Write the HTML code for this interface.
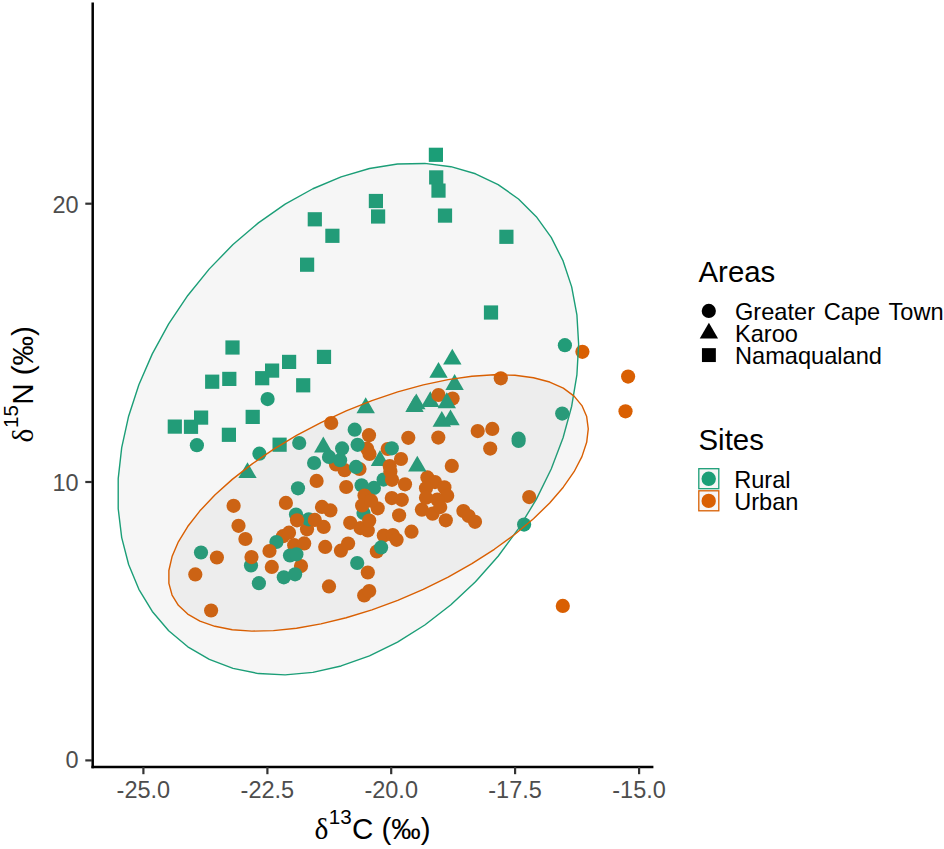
<!DOCTYPE html>
<html><head><meta charset="utf-8"><style>
html,body{margin:0;padding:0;background:#fff;}
svg{display:block;}
text{font-family:"Liberation Sans",sans-serif;}
.tl{font-size:23.5px;fill:#4d4d4d;}
.tt{font-size:29.5px;fill:#000;}
.ts{font-size:20.6px;fill:#000;}
.sf{font-family:"Liberation Serif",serif;}
.lt{font-size:29.4px;fill:#000;}
.li{font-size:23.6px;fill:#000;}
</style></head><body>
<svg width="944" height="849" viewBox="0 0 944 849">
<rect width="944" height="849" fill="#fff"/>
<circle cx="582.4" cy="351.8" r="7.1" fill="#d95f02"/>
<circle cx="628.1" cy="376.6" r="7.1" fill="#d95f02"/>
<circle cx="625.5" cy="411.3" r="7.1" fill="#d95f02"/>
<circle cx="562.8" cy="605.9" r="7.1" fill="#d95f02"/>
<circle cx="529.2" cy="497.1" r="7.1" fill="#d95f02"/>
<circle cx="500.8" cy="378.3" r="7.1" fill="#d95f02"/>
<circle cx="452.6" cy="398.5" r="7.1" fill="#d95f02"/>
<circle cx="331.2" cy="423.0" r="7.1" fill="#d95f02"/>
<circle cx="369.0" cy="435.2" r="7.1" fill="#d95f02"/>
<circle cx="408.3" cy="437.8" r="7.1" fill="#d95f02"/>
<circle cx="438.3" cy="437.6" r="7.1" fill="#d95f02"/>
<circle cx="477.7" cy="431.1" r="7.1" fill="#d95f02"/>
<circle cx="492.3" cy="428.9" r="7.1" fill="#d95f02"/>
<circle cx="490.2" cy="448.6" r="7.1" fill="#d95f02"/>
<circle cx="451.8" cy="465.9" r="7.1" fill="#d95f02"/>
<circle cx="387.7" cy="449.0" r="7.1" fill="#d95f02"/>
<circle cx="367.1" cy="448.7" r="7.1" fill="#d95f02"/>
<circle cx="369.5" cy="454.0" r="7.1" fill="#d95f02"/>
<circle cx="336.0" cy="464.5" r="7.1" fill="#d95f02"/>
<circle cx="344.6" cy="470.2" r="7.1" fill="#d95f02"/>
<circle cx="359.5" cy="469.0" r="7.1" fill="#d95f02"/>
<circle cx="401.0" cy="459.0" r="7.1" fill="#d95f02"/>
<circle cx="405.0" cy="484.3" r="7.1" fill="#d95f02"/>
<circle cx="316.6" cy="480.9" r="7.1" fill="#d95f02"/>
<circle cx="346.2" cy="487.0" r="7.1" fill="#d95f02"/>
<circle cx="285.9" cy="502.9" r="7.1" fill="#d95f02"/>
<circle cx="233.6" cy="505.8" r="7.1" fill="#d95f02"/>
<circle cx="238.5" cy="525.8" r="7.1" fill="#d95f02"/>
<circle cx="245.4" cy="539.0" r="7.1" fill="#d95f02"/>
<circle cx="216.9" cy="557.5" r="7.1" fill="#d95f02"/>
<circle cx="271.8" cy="566.9" r="7.1" fill="#d95f02"/>
<circle cx="195.3" cy="574.4" r="7.1" fill="#d95f02"/>
<circle cx="211.1" cy="610.5" r="7.1" fill="#d95f02"/>
<circle cx="322.0" cy="506.9" r="7.1" fill="#d95f02"/>
<circle cx="330.4" cy="510.4" r="7.1" fill="#d95f02"/>
<circle cx="307.0" cy="529.3" r="7.1" fill="#d95f02"/>
<circle cx="323.7" cy="526.9" r="7.1" fill="#d95f02"/>
<circle cx="350.2" cy="522.8" r="7.1" fill="#d95f02"/>
<circle cx="283.0" cy="536.2" r="7.1" fill="#d95f02"/>
<circle cx="289.0" cy="532.7" r="7.1" fill="#d95f02"/>
<circle cx="294.2" cy="545.2" r="7.1" fill="#d95f02"/>
<circle cx="304.2" cy="543.4" r="7.1" fill="#d95f02"/>
<circle cx="301.0" cy="566.1" r="7.1" fill="#d95f02"/>
<circle cx="325.2" cy="546.9" r="7.1" fill="#d95f02"/>
<circle cx="340.9" cy="550.7" r="7.1" fill="#d95f02"/>
<circle cx="348.1" cy="543.5" r="7.1" fill="#d95f02"/>
<circle cx="329.0" cy="586.4" r="7.1" fill="#d95f02"/>
<circle cx="367.8" cy="572.5" r="7.1" fill="#d95f02"/>
<circle cx="364.2" cy="595.4" r="7.1" fill="#d95f02"/>
<circle cx="369.2" cy="591.0" r="7.1" fill="#d95f02"/>
<circle cx="377.7" cy="508.3" r="7.1" fill="#d95f02"/>
<circle cx="391.8" cy="498.1" r="7.1" fill="#d95f02"/>
<circle cx="401.8" cy="499.8" r="7.1" fill="#d95f02"/>
<circle cx="399.1" cy="515.3" r="7.1" fill="#d95f02"/>
<circle cx="421.9" cy="509.7" r="7.1" fill="#d95f02"/>
<circle cx="360.5" cy="528.1" r="7.1" fill="#d95f02"/>
<circle cx="367.8" cy="530.4" r="7.1" fill="#d95f02"/>
<circle cx="411.5" cy="531.7" r="7.1" fill="#d95f02"/>
<circle cx="383.8" cy="535.6" r="7.1" fill="#d95f02"/>
<circle cx="392.8" cy="535.1" r="7.1" fill="#d95f02"/>
<circle cx="396.6" cy="539.8" r="7.1" fill="#d95f02"/>
<circle cx="376.8" cy="551.5" r="7.1" fill="#d95f02"/>
<circle cx="427.4" cy="477.4" r="7.1" fill="#d95f02"/>
<circle cx="435.0" cy="482.1" r="7.1" fill="#d95f02"/>
<circle cx="444.4" cy="487.3" r="7.1" fill="#d95f02"/>
<circle cx="426.0" cy="488.3" r="7.1" fill="#d95f02"/>
<circle cx="447.2" cy="495.8" r="7.1" fill="#d95f02"/>
<circle cx="426.0" cy="497.7" r="7.1" fill="#d95f02"/>
<circle cx="437.3" cy="499.6" r="7.1" fill="#d95f02"/>
<circle cx="432.6" cy="513.7" r="7.1" fill="#d95f02"/>
<circle cx="440.2" cy="507.1" r="7.1" fill="#d95f02"/>
<circle cx="445.8" cy="520.3" r="7.1" fill="#d95f02"/>
<circle cx="463.4" cy="511.1" r="7.1" fill="#d95f02"/>
<circle cx="468.7" cy="516.0" r="7.1" fill="#d95f02"/>
<circle cx="475.0" cy="521.8" r="7.1" fill="#d95f02"/>
<rect x="368.80" y="193.90" width="14.2" height="14.2" fill="#1b9e77"/>
<rect x="371.00" y="209.40" width="14.2" height="14.2" fill="#1b9e77"/>
<rect x="307.70" y="212.20" width="14.2" height="14.2" fill="#1b9e77"/>
<rect x="325.30" y="228.70" width="14.2" height="14.2" fill="#1b9e77"/>
<rect x="300.00" y="257.60" width="14.2" height="14.2" fill="#1b9e77"/>
<rect x="428.80" y="147.70" width="14.2" height="14.2" fill="#1b9e77"/>
<rect x="429.10" y="170.30" width="14.2" height="14.2" fill="#1b9e77"/>
<rect x="431.40" y="183.50" width="14.2" height="14.2" fill="#1b9e77"/>
<rect x="437.90" y="208.50" width="14.2" height="14.2" fill="#1b9e77"/>
<rect x="499.30" y="229.70" width="14.2" height="14.2" fill="#1b9e77"/>
<rect x="483.90" y="305.40" width="14.2" height="14.2" fill="#1b9e77"/>
<rect x="225.40" y="340.40" width="14.2" height="14.2" fill="#1b9e77"/>
<rect x="205.10" y="374.60" width="14.2" height="14.2" fill="#1b9e77"/>
<rect x="222.20" y="371.80" width="14.2" height="14.2" fill="#1b9e77"/>
<rect x="255.10" y="371.10" width="14.2" height="14.2" fill="#1b9e77"/>
<rect x="265.00" y="363.50" width="14.2" height="14.2" fill="#1b9e77"/>
<rect x="282.00" y="354.80" width="14.2" height="14.2" fill="#1b9e77"/>
<rect x="316.90" y="349.80" width="14.2" height="14.2" fill="#1b9e77"/>
<rect x="296.10" y="378.20" width="14.2" height="14.2" fill="#1b9e77"/>
<rect x="245.60" y="409.80" width="14.2" height="14.2" fill="#1b9e77"/>
<rect x="167.70" y="419.50" width="14.2" height="14.2" fill="#1b9e77"/>
<rect x="183.90" y="419.70" width="14.2" height="14.2" fill="#1b9e77"/>
<rect x="194.00" y="410.50" width="14.2" height="14.2" fill="#1b9e77"/>
<rect x="221.80" y="427.70" width="14.2" height="14.2" fill="#1b9e77"/>
<rect x="272.50" y="437.60" width="14.2" height="14.2" fill="#1b9e77"/>
<polygon points="452.30,348.68 461.50,364.61 443.10,364.61" fill="#1b9e77"/>
<polygon points="438.50,361.88 447.70,377.81 429.30,377.81" fill="#1b9e77"/>
<polygon points="454.60,374.08 463.80,390.01 445.40,390.01" fill="#1b9e77"/>
<polygon points="414.50,395.98 423.70,411.91 405.30,411.91" fill="#1b9e77"/>
<polygon points="416.30,393.38 425.50,409.31 407.10,409.31" fill="#1b9e77"/>
<polygon points="430.30,391.18 439.50,407.11 421.10,407.11" fill="#1b9e77"/>
<polygon points="441.80,410.88 451.00,426.81 432.60,426.81" fill="#1b9e77"/>
<polygon points="450.50,409.38 459.70,425.31 441.30,425.31" fill="#1b9e77"/>
<polygon points="417.30,455.68 426.50,471.61 408.10,471.61" fill="#1b9e77"/>
<polygon points="380.00,449.98 389.20,465.91 370.80,465.91" fill="#1b9e77"/>
<polygon points="365.70,397.28 374.90,413.21 356.50,413.21" fill="#1b9e77"/>
<polygon points="323.30,436.48 332.50,452.41 314.10,452.41" fill="#1b9e77"/>
<polygon points="247.50,462.18 256.70,478.11 238.30,478.11" fill="#1b9e77"/>
<circle cx="564.9" cy="345.2" r="7.1" fill="#1b9e77"/>
<circle cx="562.2" cy="413.6" r="7.1" fill="#1b9e77"/>
<circle cx="518.6" cy="438.7" r="7.1" fill="#1b9e77"/>
<circle cx="518.6" cy="441.0" r="7.1" fill="#1b9e77"/>
<circle cx="267.6" cy="399.1" r="7.1" fill="#1b9e77"/>
<circle cx="196.9" cy="445.2" r="7.1" fill="#1b9e77"/>
<circle cx="259.4" cy="453.7" r="7.1" fill="#1b9e77"/>
<circle cx="299.2" cy="443.0" r="7.1" fill="#1b9e77"/>
<circle cx="314.1" cy="463.0" r="7.1" fill="#1b9e77"/>
<circle cx="329.0" cy="456.9" r="7.1" fill="#1b9e77"/>
<circle cx="340.1" cy="460.2" r="7.1" fill="#1b9e77"/>
<circle cx="342.1" cy="448.4" r="7.1" fill="#1b9e77"/>
<circle cx="354.7" cy="429.7" r="7.1" fill="#1b9e77"/>
<circle cx="357.6" cy="444.8" r="7.1" fill="#1b9e77"/>
<circle cx="356.0" cy="466.9" r="7.1" fill="#1b9e77"/>
<circle cx="391.8" cy="448.3" r="7.1" fill="#1b9e77"/>
<circle cx="383.6" cy="479.6" r="7.1" fill="#1b9e77"/>
<circle cx="361.6" cy="485.3" r="7.1" fill="#1b9e77"/>
<circle cx="373.9" cy="487.9" r="7.1" fill="#1b9e77"/>
<circle cx="298.0" cy="488.3" r="7.1" fill="#1b9e77"/>
<circle cx="296.0" cy="514.6" r="7.1" fill="#1b9e77"/>
<circle cx="308.7" cy="519.3" r="7.1" fill="#1b9e77"/>
<circle cx="276.4" cy="542.0" r="7.1" fill="#1b9e77"/>
<circle cx="201.0" cy="552.5" r="7.1" fill="#1b9e77"/>
<circle cx="251.0" cy="565.4" r="7.1" fill="#1b9e77"/>
<circle cx="258.9" cy="583.2" r="7.1" fill="#1b9e77"/>
<circle cx="283.8" cy="577.3" r="7.1" fill="#1b9e77"/>
<circle cx="295.1" cy="574.3" r="7.1" fill="#1b9e77"/>
<circle cx="290.0" cy="555.5" r="7.1" fill="#1b9e77"/>
<circle cx="296.4" cy="554.3" r="7.1" fill="#1b9e77"/>
<circle cx="381.1" cy="547.4" r="7.1" fill="#1b9e77"/>
<circle cx="357.2" cy="563.0" r="7.1" fill="#1b9e77"/>
<circle cx="363.5" cy="513.0" r="7.1" fill="#1b9e77"/>
<circle cx="524.1" cy="524.6" r="7.1" fill="#1b9e77"/>
<circle cx="438.5" cy="395.0" r="7.1" fill="#d95f02"/>
<circle cx="389.7" cy="466.0" r="7.1" fill="#d95f02"/>
<circle cx="390.4" cy="471.6" r="7.1" fill="#d95f02"/>
<circle cx="392.0" cy="479.8" r="7.1" fill="#d95f02"/>
<circle cx="251.5" cy="557.1" r="7.1" fill="#d95f02"/>
<circle cx="269.5" cy="551.0" r="7.1" fill="#d95f02"/>
<circle cx="297.0" cy="520.3" r="7.1" fill="#d95f02"/>
<circle cx="314.8" cy="519.9" r="7.1" fill="#d95f02"/>
<circle cx="364.5" cy="495.5" r="7.1" fill="#d95f02"/>
<circle cx="362.1" cy="505.4" r="7.1" fill="#d95f02"/>
<circle cx="371.1" cy="500.7" r="7.1" fill="#d95f02"/>
<circle cx="369.2" cy="520.5" r="7.1" fill="#d95f02"/>
<polygon points="446.80,392.28 456.00,408.21 437.60,408.21" fill="#1b9e77"/>
<path d="M578.64,344.28 L576.90,314.78 L571.68,286.85 L563.08,260.94 L551.22,237.42 L536.29,216.65 L518.50,198.95 L498.13,184.59 L475.49,173.78 L450.92,166.70 L424.80,163.43 L397.51,164.05 L369.47,168.52 L341.11,176.80 L312.86,188.75 L285.15,204.19 L258.39,222.89 L232.99,244.56 L209.34,268.88 L187.80,295.48 L168.68,323.94 L152.29,353.85 L138.87,384.75 L128.62,416.17 L121.70,447.64 L118.21,478.67 L118.21,508.79 L121.70,537.56 L128.62,564.53 L138.87,589.30 L152.29,611.48 L168.68,630.75 L187.80,646.81 L209.34,659.42 L232.99,668.38 L258.39,673.57 L285.15,674.90 L312.86,672.35 L341.11,665.96 L369.47,655.82 L397.51,642.10 L424.80,625.00 L450.92,604.78 L475.49,581.74 L498.13,556.23 L518.50,528.65 L536.29,499.40 L551.22,468.94 L563.08,437.72 L571.68,406.22 L576.90,374.92 Z" fill="rgba(128,128,128,0.076)" stroke="#1b9e77" stroke-width="1.4" stroke-linejoin="round"/>
<path d="M588.27,428.88 L586.68,416.58 L581.93,405.59 L574.09,396.07 L563.29,388.17 L549.69,382.02 L533.49,377.70 L514.93,375.27 L494.31,374.79 L471.93,376.24 L448.13,379.62 L423.28,384.87 L397.74,391.90 L371.91,400.62 L346.18,410.90 L320.94,422.56 L296.56,435.45 L273.43,449.36 L251.89,464.08 L232.26,479.39 L214.85,495.06 L199.92,510.85 L187.70,526.52 L178.36,541.84 L172.06,556.56 L168.88,570.47 L168.88,583.36 L172.06,595.03 L178.36,605.30 L187.70,614.02 L199.92,621.06 L214.85,626.31 L232.26,629.69 L251.89,631.15 L273.43,630.66 L296.56,628.24 L320.94,623.92 L346.18,617.77 L371.91,609.87 L397.74,600.36 L423.28,589.37 L448.13,577.07 L471.93,563.64 L494.31,549.30 L514.93,534.26 L533.49,518.74 L549.69,502.98 L563.29,487.22 L574.09,471.70 L581.93,456.65 L586.68,442.30 Z" fill="rgba(128,128,128,0.076)" stroke="#d95f02" stroke-width="1.4" stroke-linejoin="round"/>
<line x1="92.7" y1="2.4" x2="92.7" y2="768.2" stroke="#000" stroke-width="2.5"/>
<line x1="91.45" y1="767" x2="653.4" y2="767" stroke="#000" stroke-width="2.5"/>
<line x1="143.4" y1="767" x2="143.4" y2="774.2" stroke="#333" stroke-width="2.2"/>
<text x="143.4" y="797.6" text-anchor="middle" class="tl">-25.0</text>
<line x1="267.4" y1="767" x2="267.4" y2="774.2" stroke="#333" stroke-width="2.2"/>
<text x="267.4" y="797.6" text-anchor="middle" class="tl">-22.5</text>
<line x1="391.2" y1="767" x2="391.2" y2="774.2" stroke="#333" stroke-width="2.2"/>
<text x="391.2" y="797.6" text-anchor="middle" class="tl">-20.0</text>
<line x1="515.1" y1="767" x2="515.1" y2="774.2" stroke="#333" stroke-width="2.2"/>
<text x="515.1" y="797.6" text-anchor="middle" class="tl">-17.5</text>
<line x1="639.1" y1="767" x2="639.1" y2="774.2" stroke="#333" stroke-width="2.2"/>
<text x="639.1" y="797.6" text-anchor="middle" class="tl">-15.0</text>
<line x1="85.3" y1="760.4" x2="92" y2="760.4" stroke="#333" stroke-width="2.2"/>
<text x="78.6" y="768.4" text-anchor="end" class="tl">0</text>
<line x1="85.3" y1="482.0" x2="92" y2="482.0" stroke="#333" stroke-width="2.2"/>
<text x="78.6" y="490.9" text-anchor="end" class="tl">10</text>
<line x1="85.3" y1="203.7" x2="92" y2="203.7" stroke="#333" stroke-width="2.2"/>
<text x="78.6" y="212.89999999999998" text-anchor="end" class="tl">20</text>
<text x="314.4" y="839.2" class="tt sf">δ</text><text x="328.8" y="824.4000000000001" class="ts">13</text><text x="352.0" y="839.2" class="tt">C (‰)</text>
<g transform="translate(33.2,441.6) rotate(-90)"><text x="-0.8" y="0" class="tt sf">δ</text><text x="13.6" y="-14.8" class="ts">15</text><text x="36.8" y="0" class="tt">N (‰)</text></g>

<text x="698.5" y="282.2" class="lt">Areas</text>
<circle cx="708.8" cy="310.9" r="7.1" fill="#000"/>
<polygon points="708.9,322.73 718.06,338.59 699.74,338.59" fill="#000"/>
<rect x="701.95" y="348.15" width="13.9" height="13.9" fill="#000"/>
<text x="735" y="320" class="li" word-spacing="2.2">Greater Cape Town</text>
<text x="735" y="342" class="li">Karoo</text>
<text x="735" y="363.5" class="li">Namaqualand</text>
<text x="698.5" y="450" class="lt">Sites</text>
<rect x="698.8" y="468.7" width="20" height="20" fill="rgba(128,128,128,0.076)" stroke="#1b9e77" stroke-width="1.3"/>
<circle cx="708.7" cy="478.8" r="7.2" fill="#1b9e77"/>
<rect x="698.8" y="490.8" width="20" height="20" fill="rgba(128,128,128,0.076)" stroke="#d95f02" stroke-width="1.3"/>
<circle cx="708.7" cy="500.9" r="7.2" fill="#d95f02"/>
<text x="734.2" y="487.6" class="li">Rural</text>
<text x="734.2" y="509.6" class="li">Urban</text>

</svg>
</body></html>
